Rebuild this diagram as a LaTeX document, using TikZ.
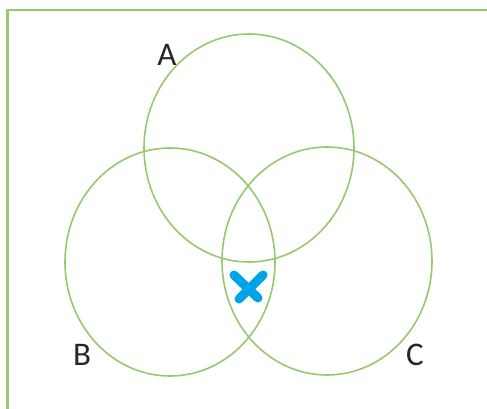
\documentclass[tikz,border=0pt]{standalone}
\usepackage{fontspec}
\setmainfont{Carlito}
\usetikzlibrary{positioning,shapes.geometric}
\definecolor{setgreen}{RGB}{150,200,112}
\definecolor{markblue}{RGB}{0,162,232}
\tikzset{
  setring/.style={draw=setgreen, ellipse, line width=1.6pt, minimum width=210pt, minimum height=228pt, inner sep=0pt},
  setlabel/.style={font=\fontsize{33}{33}\selectfont, text=black!85, inner sep=0pt},
  framebox/.style={draw=setgreen, line width=2.6pt},
  crossmark/.style={draw=markblue, line width=9pt, line cap=round}
}
\begin{document}
\begin{tikzpicture}[x=1pt, y=-1pt]
  \useasboundingbox (0,0) rectangle (487,409);
  \clip (0,0) rectangle (487,409);
  \draw[framebox] (7.5,10) rectangle (520,440);
  \node[setring] (A) at (249,148) {};
  \node[setring] (B) at (170,262) {};
  \node[setring] (C) at (327,261) {};
  \node[setlabel] (la) at (167,55) {A};
  \node[setlabel] (lb) at (82,355) {B};
  \node[setlabel] (lc) at (415,355) {C};
  \draw[crossmark] (234,275) -- (258,298);
  \draw[crossmark] (263,275) -- (239,299);
\end{tikzpicture}
\end{document}
